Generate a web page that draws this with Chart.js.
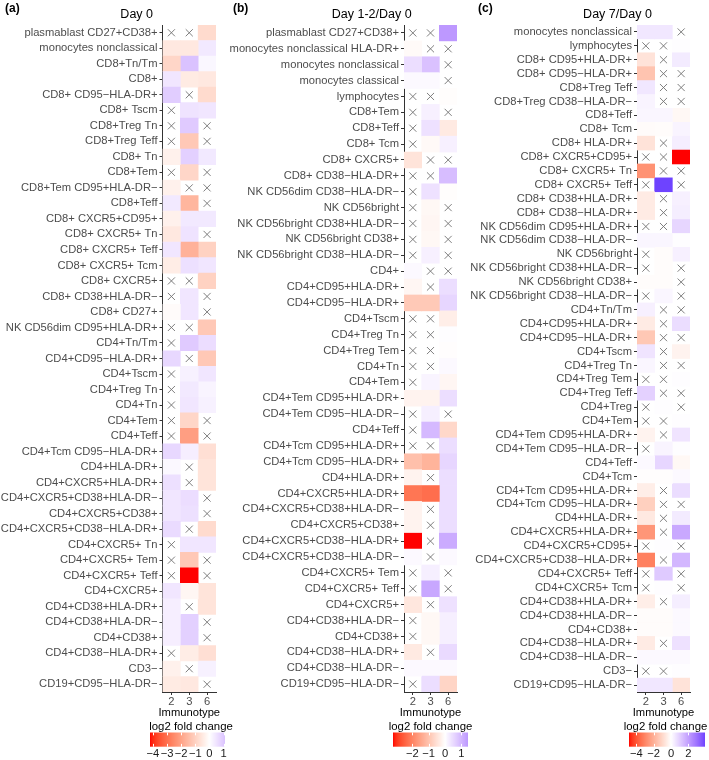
<!DOCTYPE html>
<html><head><meta charset="utf-8">
<script src="https://cdn.jsdelivr.net/npm/chart.js@4/dist/chart.umd.min.js"></script>
<style>
body{margin:0;background:#fff;}
#wrap{position:relative;width:709px;height:760px;overflow:hidden;font-family:"Liberation Sans",Arial,sans-serif;background:#fff;}
canvas{position:absolute;}
.txt{position:absolute;white-space:nowrap;line-height:1;}
</style></head><body><div id="wrap">
<canvas id="pA" width="226" height="760" style="left:0;top:0"></canvas>
<canvas id="pB" width="245" height="760" style="left:222px;top:0"></canvas>
<canvas id="pC" width="238" height="760" style="left:462px;top:0"></canvas>
<canvas id="lA" width="95" height="35" style="left:140px;top:725px"></canvas>
<canvas id="lB" width="95" height="35" style="left:383px;top:725px"></canvas>
<canvas id="lC" width="96" height="35" style="left:619px;top:725px"></canvas>
</div>
<script>
// ---------- data ----------
const immunotypes = ['2', '3', '6'];

const rowsA = ["plasmablast CD27+CD38+","monocytes nonclassical","CD8+Tn/Tm","CD8+","CD8+ CD95\u2212HLA-DR+","CD8+ Tscm","CD8+Treg Tn","CD8+Treg Teff","CD8+ Tn","CD8+Tem","CD8+Tem CD95+HLA-DR\u2212","CD8+Teff","CD8+ CXCR5+CD95+","CD8+ CXCR5+ Tn","CD8+ CXCR5+ Teff","CD8+ CXCR5+ Tcm","CD8+ CXCR5+","CD8+ CD38+HLA-DR\u2212","CD8+ CD27+","NK CD56dim CD95+HLA-DR+","CD4+Tn/Tm","CD4+CD95\u2212HLA-DR+","CD4+Tscm","CD4+Treg Tn","CD4+Tn","CD4+Tem","CD4+Teff","CD4+Tcm CD95\u2212HLA-DR+","CD4+HLA-DR+","CD4+CXCR5+HLA-DR+","CD4+CXCR5+CD38+HLA-DR\u2212","CD4+CXCR5+CD38+","CD4+CXCR5+CD38\u2212HLA-DR+","CD4+CXCR5+ Tn","CD4+CXCR5+ Tem","CD4+CXCR5+ Teff","CD4+CXCR5+","CD4+CD38+HLA-DR+","CD4+CD38+HLA-DR\u2212","CD4+CD38+","CD4+CD38\u2212HLA-DR+","CD3\u2212","CD19+CD95\u2212HLA-DR\u2212"];
const a2 = [null,-0.5,-0.9,0.45,0.9,null,null,null,-0.3,null,-0.3,0.4,-0.3,-0.5,0.45,-0.4,null,null,-0.08,null,null,0.7,null,null,null,null,null,0.7,0.12,0.55,0.45,0.45,0.65,null,null,null,0.45,0.3,0.3,0.3,null,-0.3,-0.45];
const a3 = [null,-0.5,1.1,-0.45,null,0.5,0.95,-1.2,0.85,-0.9,null,-1.6,0.4,0.5,-1.7,0.55,null,0.45,0.45,null,0.95,null,0.25,0.4,0.45,-0.9,-2.1,0.3,null,null,0.6,0.55,null,0.45,-1.2,-4.21,-0.2,null,0.85,0.85,-0.4,null,-0.5];
const a6 = [-0.8,0.4,0.15,-0.5,-0.8,0.45,null,null,0.4,null,null,null,0.4,null,-1.0,0.45,-1.0,null,null,-1.2,0.6,-1.2,0.45,0.2,0.25,null,null,-0.7,-0.6,-0.6,null,null,-0.8,0.45,null,null,-0.6,-0.6,null,null,-0.7,0.25,null];

const rowsB = ["plasmablast CD27+CD38+","monocytes nonclassical HLA-DR+","monocytes nonclassical","monocytes classical","lymphocytes","CD8+Tem","CD8+Teff","CD8+ Tcm","CD8+ CXCR5+","CD8+ CD38\u2212HLA-DR+","NK CD56dim CD38\u2212HLA-DR\u2212","NK CD56bright","NK CD56bright CD38+HLA-DR\u2212","NK CD56bright CD38+","NK CD56bright CD38\u2212HLA-DR\u2212","CD4+","CD4+CD95+HLA-DR+","CD4+CD95\u2212HLA-DR+","CD4+Tscm","CD4+Treg Tn","CD4+Treg Tem","CD4+Tn","CD4+Tem","CD4+Tem CD95+HLA-DR+","CD4+Tem CD95\u2212HLA-DR\u2212","CD4+Teff","CD4+Tcm CD95+HLA-DR+","CD4+Tcm CD95\u2212HLA-DR+","CD4+HLA-DR+","CD4+CXCR5+HLA-DR+","CD4+CXCR5+CD38+HLA-DR\u2212","CD4+CXCR5+CD38+","CD4+CXCR5+CD38\u2212HLA-DR+","CD4+CXCR5+CD38\u2212HLA-DR\u2212","CD4+CXCR5+ Tem","CD4+CXCR5+ Teff","CD4+CXCR5+","CD4+CD38+HLA-DR\u2212","CD4+CD38+","CD4+CD38\u2212HLA-DR+","CD4+CD38\u2212HLA-DR\u2212","CD19+CD95\u2212HLA-DR\u2212"];
const b2 = [null,-0.08,0.45,0.08,null,null,null,null,-0.45,null,null,null,null,null,null,0.08,-0.15,-0.9,null,null,null,null,null,-0.2,null,null,null,-1.05,-0.2,-2.2,-0.2,-0.2,-3.19,0.08,null,null,-0.4,null,null,-0.35,0.08,null];
const b3 = [null,null,0.85,0.08,null,0.2,0.4,-0.1,null,null,0.4,-0.12,-0.15,-0.12,0.2,null,null,-0.9,null,null,null,null,0.15,-0.2,0.22,0.95,null,-1.25,null,-2.3,null,null,null,null,0.22,1.2,null,-0.12,-0.12,null,0.08,0.45];
const b6 = [1.41,null,null,null,-0.04,null,-0.35,0.2,null,0.9,-0.04,null,null,null,null,null,0.45,0.55,-0.28,0.03,-0.03,0.08,-0.15,0.45,null,-0.65,0.45,0.55,0.45,0.45,0.45,0.45,1.15,0.08,null,null,0.4,0.22,0.22,0.5,0.08,-0.7];

const rowsC = ["monocytes nonclassical","lymphocytes","CD8+ CD95+HLA-DR+","CD8+ CD95\u2212HLA-DR+","CD8+Treg Teff","CD8+Treg CD38\u2212HLA-DR\u2212","CD8+Teff","CD8+ Tcm","CD8+ HLA-DR+","CD8+ CXCR5+CD95+","CD8+ CXCR5+ Tn","CD8+ CXCR5+ Teff","CD8+ CD38+HLA-DR+","CD8+ CD38\u2212HLA-DR+","NK CD56dim CD95+HLA-DR+","NK CD56dim CD38\u2212HLA-DR\u2212","NK CD56bright","NK CD56bright CD38+HLA-DR\u2212","NK CD56bright CD38+","NK CD56bright CD38\u2212HLA-DR\u2212","CD4+Tn/Tm","CD4+CD95+HLA-DR+","CD4+CD95\u2212HLA-DR+","CD4+Tscm","CD4+Treg Tn","CD4+Treg Tem","CD4+Treg Teff","CD4+Treg","CD4+Tem","CD4+Tem CD95+HLA-DR+","CD4+Tem CD95\u2212HLA-DR\u2212","CD4+Teff","CD4+Tcm","CD4+Tcm CD95+HLA-DR+","CD4+Tcm CD95\u2212HLA-DR+","CD4+HLA-DR+","CD4+CXCR5+HLA-DR+","CD4+CXCR5+CD95+","CD4+CXCR5+CD38\u2212HLA-DR+","CD4+CXCR5+ Teff","CD4+CXCR5+ Tcm","CD4+CD38+HLA-DR+","CD4+CD38+HLA-DR\u2212","CD4+CD38+","CD4+CD38\u2212HLA-DR+","CD4+CD38\u2212HLA-DR\u2212","CD3\u2212","CD19+CD95\u2212HLA-DR\u2212"];
const c2 = [0.5,null,-0.7,-1.5,0.5,0.22,0.18,-0.1,-0.7,null,-2.7,null,-0.5,-0.5,null,0.18,null,null,-0.07,null,0.3,-0.5,-1.4,0.55,0.18,null,0.95,null,null,-0.3,null,0.12,-0.04,-0.42,-1.2,-0.55,-2.6,null,-3.1,null,null,-0.42,-0.07,-0.07,-0.5,0.12,null,0.5];
const c3 = [0.5,null,null,null,null,null,0.18,-0.07,null,null,null,3.92,null,null,null,0.18,-0.07,-0.07,-0.07,0.18,null,null,null,null,null,null,null,0.04,null,null,0.22,0.85,-0.04,null,null,null,null,0.04,null,1.1,0.04,null,-0.07,-0.07,null,0.12,null,0.5];
const c6 = [null,0.04,0.42,null,null,null,-0.18,0.22,0.35,-4.84,null,null,0.3,0.35,0.85,0.04,0.3,null,null,null,null,0.7,null,-0.3,null,0.04,null,null,0.04,0.55,0.04,-0.18,0.12,0.7,null,0.42,1.8,null,1.5,null,null,0.35,0.12,0.12,0.62,0.12,0.04,-0.7];

const limitsA = [-4.21, 1.1];
const limitsB = [-3.19, 1.41];
const limitsC = [-4.84, 3.92];
const legendTicksA = [-4, -3, -2, -1, 0, 1];
const legendTicksB = [-2, -1, 0, 1];
const legendTicksC = [-4, -2, 0, 2];

// ---------- colour (Lab interpolation red - white - blue) ----------
function lin(c){c/=255;return c<=0.04045?c/12.92:Math.pow((c+0.055)/1.055,2.4);}
function delin(c){const v=c<=0.0031308?12.92*c:1.055*Math.pow(c,1/2.4)-0.055;return Math.round(Math.min(1,Math.max(0,v))*255);}
function toLab(rgb){
  const r=lin(rgb[0]),g=lin(rgb[1]),b=lin(rgb[2]);
  const X=(0.4124564*r+0.3575761*g+0.1804375*b)/0.95047;
  const Y=(0.2126729*r+0.7151522*g+0.0721750*b);
  const Z=(0.0193339*r+0.1191920*g+0.9503041*b)/1.08883;
  const f=t=>t>0.008856?Math.cbrt(t):7.787*t+16/116;
  const fx=f(X),fy=f(Y),fz=f(Z);
  return [116*fy-16,500*(fx-fy),200*(fy-fz)];
}
function fromLab(L,a,b){
  const fy=(L+16)/116,fx=fy+a/500,fz=fy-b/200;
  const fi=t=>{const t3=t*t*t;return t3>0.008856?t3:(t-16/116)/7.787;};
  const X=fi(fx)*0.95047,Y=fi(fy),Z=fi(fz)*1.08883;
  const r= 3.2404542*X-1.5371385*Y-0.4985314*Z;
  const g=-0.9692660*X+1.8760108*Y+0.0415560*Z;
  const bb=0.0556434*X-0.2040259*Y+1.0572252*Z;
  return 'rgb('+delin(r)+','+delin(g)+','+delin(bb)+')';
}
const LAB_RED=toLab([255,0,0]), LAB_WHITE=toLab([255,255,255]), LAB_BLUE=toLab([0,0,255]);
function fillColor(v,M){
  let t=Math.max(-1,Math.min(1,v/M));
  const end=t<0?LAB_RED:LAB_BLUE; t=Math.abs(t);
  return fromLab(LAB_WHITE[0]+(end[0]-LAB_WHITE[0])*t,LAB_WHITE[1]+(end[1]-LAB_WHITE[1])*t,LAB_WHITE[2]+(end[2]-LAB_WHITE[2])*t);
}

// ---------- charts ----------
const FONT = {family:'"Liberation Sans", Arial, sans-serif', size:11.2};
const AXIS = '#333333';

function makePanel(id, rows, series, lim, yWidth){
  const M = Math.max(Math.abs(lim[0]), Math.abs(lim[1]));
  const datasets = series.map((vals, c) => ({
    type:'bar', indexAxis:'y', order:2,
    data: vals.map(v => v === null ? null : [c, c + 1]),
    backgroundColor: vals.map(v => v === null ? 'rgba(0,0,0,0)' : fillColor(v, M)),
    borderWidth:0, barPercentage:1, categoryPercentage:1, grouped:false
  }));
  const crosses = [];
  series.forEach((vals, c) => vals.forEach((v, i) => { if (v === null) crosses.push({x: c + 0.5, y: rows[i]}); }));
  datasets.push({type:'scatter', indexAxis:'x', order:0, data:crosses, pointStyle:'crossRot', pointRadius:5,
    pointBorderColor:'#707070', pointBorderWidth:0.9, pointBackgroundColor:'rgba(0,0,0,0)'});
  new Chart(document.getElementById(id), {
    type:'bar',
    data:{labels:rows, datasets},
    options:{
      indexAxis:'y', responsive:false, animation:false, devicePixelRatio:1,
      layout:{padding:{top:25, right:10, left:0, bottom:0}},
      plugins:{legend:{display:false}, tooltip:{enabled:false}},
      scales:{
        x:{type:'linear', min:0, max:3, position:'bottom',
          afterBuildTicks:s => { s.ticks = immunotypes.map((_, i) => ({value:i + 0.5})); },
          afterFit:s => { s.height = 68; },
          ticks:{callback:v => immunotypes[Math.floor(v)], font:FONT, color:'#4d4d4d', padding:0, maxRotation:0, autoSkip:false},
          grid:{drawOnChartArea:false, tickLength:3, color:AXIS},
          border:{display:true, color:AXIS, width:1}},
        y:{type:'category', labels:rows, offset:true, position:'left',
          afterFit:s => { s.width = yWidth; },
          ticks:{autoSkip:false, font:FONT, color:'#4d4d4d', padding:2},
          grid:{offset:false, drawOnChartArea:false, tickLength:3, color:AXIS},
          border:{display:true, color:AXIS, width:1}}
      }
    }
  });
}

function makeLegend(id, lim, ticks){
  const M = Math.max(Math.abs(lim[0]), Math.abs(lim[1]));
  new Chart(document.getElementById(id), {
    type:'scatter',
    data:{datasets:[]},
    options:{
      responsive:false, animation:false, devicePixelRatio:1,
      layout:{padding:{top:7.5, left:10, right:10, bottom:0}},
      plugins:{legend:{display:false}, tooltip:{enabled:false}},
      scales:{
        x:{type:'linear', min:lim[0], max:lim[1],
          afterBuildTicks:s => { s.ticks = ticks.map(v => ({value:v})); },
          afterFit:s => { s.height = 13.3; },
          ticks:{callback:v => (v < 0 ? '\u2212' : '') + Math.abs(v), font:FONT, color:'#1a1a1a', padding:0, maxRotation:0, autoSkip:false},
          grid:{display:false, drawTicks:false, tickLength:0}, border:{display:false}},
        y:{display:false, min:0, max:1}
      }
    },
    plugins:[{id:'colorbar', beforeDatasetsDraw(chart){
      const {ctx, chartArea:a, scales:{x}} = chart;
      const grad = ctx.createLinearGradient(a.left, 0, a.right, 0);
      const n = 60;
      for (let k = 0; k <= n; k++){ const v = lim[0] + (lim[1] - lim[0]) * k / n; grad.addColorStop(k / n, fillColor(v, M)); }
      ctx.save();
      ctx.fillStyle = grad;
      ctx.fillRect(a.left, a.top, a.right - a.left, a.bottom - a.top);
      ctx.strokeStyle = '#ffffff'; ctx.lineWidth = 1;
      const h = (a.bottom - a.top) / 5;
      ticks.forEach(v => {
        const px = Math.round(x.getPixelForValue(v)) + 0.5;
        ctx.beginPath(); ctx.moveTo(px, a.top); ctx.lineTo(px, a.top + h);
        ctx.moveTo(px, a.bottom); ctx.lineTo(px, a.bottom - h); ctx.stroke();
      });
      ctx.restore();
    }}]
  });
}

makePanel('pA', rowsA, [a2, a3, a6], limitsA, 162.5);
makePanel('pB', rowsB, [b2, b3, b6], limitsB, 182);
makePanel('pC', rowsC, [c2, c3, c6], limitsC, 175);
makeLegend('lA', limitsA, legendTicksA);
makeLegend('lB', limitsB, legendTicksB);
makeLegend('lC', limitsC, legendTicksC);

// ---------- text ----------
const wrap = document.getElementById('wrap');
function addText(str, x, baseline, size, opts){
  opts = opts || {};
  const d = document.createElement('div');
  d.className = 'txt';
  d.textContent = str;
  d.style.fontSize = size + 'px';
  d.style.top = (baseline - 0.8465 * size) + 'px';
  d.style.left = x + 'px';
  d.style.color = opts.color || '#000';
  if (opts.bold) d.style.fontWeight = 'bold';
  if (opts.center) d.style.transform = 'translateX(-50%)';
  wrap.appendChild(d);
}
addText('(a)', 5, 12, 12, {bold:true});
addText('(b)', 233, 12, 12, {bold:true});
addText('(c)', 478, 12, 12, {bold:true});
addText('Day 0', 136.7, 18.5, 12.5, {center:true});
addText('Day 1-2/Day 0', 371.7, 18.5, 12.5, {center:true});
addText('Day 7/Day 0', 617.5, 18.5, 12.5, {center:true});
addText('Immunotype', 189.3, 716.3, 11.2, {center:true});
addText('Immunotype', 430.5, 716.3, 11.2, {center:true});
addText('Immunotype', 663.5, 716.3, 11.2, {center:true});
addText('log2 fold change', 191, 730.5, 11.4, {center:true});
addText('log2 fold change', 430.5, 730.5, 11.4, {center:true});
addText('log2 fold change', 665.5, 730.5, 11.4, {center:true});
</script>
</body></html>
